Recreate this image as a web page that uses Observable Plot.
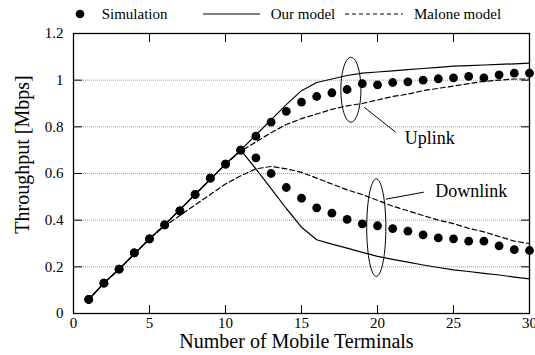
<!DOCTYPE html>
<html><head><meta charset="utf-8">
<script src="https://cdn.jsdelivr.net/npm/d3@7"></script>
<script src="https://cdn.jsdelivr.net/npm/@observablehq/plot@0.6"></script>
<style>
body{margin:0;background:#fff;font-family:"Liberation Serif","Times New Roman",Times,"Nimbus Roman","DejaVu Serif",serif;}
#legend{position:relative;width:535px;height:24px;font-size:15px;color:#000}
#legend .lbl{position:absolute;top:4px;line-height:20px;white-space:nowrap}
#legend svg{position:absolute;top:4px}
</style></head><body>
<div id="legend"></div>
<div id="chart"></div>
<script>
// ---- data ----
const terminals = [1,2,3,4,5,6,7,8,9,10,11,12,13,14,15,16,17,18,19,20,21,22,23,24,25,26,27,28,29,30];
const simUplink = [0.06,0.13,0.19,0.26,0.32,0.38,0.44,0.51,0.58,0.64,0.70,0.76,0.82,0.866,0.906,0.93,0.946,0.96,0.985,0.98,0.99,0.993,1.0,1.006,1.01,1.016,1.01,1.023,1.03,1.03];
const simDownlink = [0.06,0.13,0.19,0.26,0.32,0.38,0.44,0.51,0.58,0.64,0.70,0.667,0.60,0.54,0.494,0.453,0.43,0.403,0.384,0.376,0.364,0.353,0.337,0.324,0.32,0.31,0.31,0.29,0.274,0.27];
const ourUplink = [0.06,0.13,0.19,0.255,0.32,0.38,0.445,0.51,0.575,0.64,0.70,0.765,0.83,0.895,0.955,0.99,1.005,1.02,1.03,1.035,1.04,1.045,1.05,1.055,1.06,1.062,1.065,1.068,1.07,1.073];
const ourDownlink = [0.06,0.13,0.19,0.255,0.32,0.38,0.445,0.51,0.575,0.64,0.70,0.62,0.535,0.45,0.37,0.316,0.297,0.28,0.262,0.245,0.232,0.22,0.208,0.197,0.187,0.18,0.172,0.165,0.156,0.148];
const maloneUplink = [0.06,0.13,0.19,0.255,0.32,0.38,0.445,0.51,0.575,0.64,0.695,0.735,0.775,0.81,0.835,0.855,0.875,0.89,0.90,0.915,0.93,0.94,0.955,0.965,0.975,0.985,0.995,1.0,1.005,1.005];
const maloneDownlink = [0.06,0.13,0.19,0.255,0.32,0.375,0.42,0.465,0.51,0.555,0.59,0.62,0.63,0.62,0.605,0.58,0.555,0.53,0.51,0.485,0.46,0.44,0.42,0.40,0.385,0.365,0.35,0.33,0.31,0.30];

const xTicks = [0,5,10,15,20,25,30];
const yTicks = [0,0.2,0.4,0.6,0.8,1,1.2];
const gridValues = [0.2,0.4,0.6,0.8,1];

const xLabel = "Number of Mobile Terminals";
const yLabel = "Throughput [Mbps]";
const legendLabels = ["Simulation","Our model","Malone model"];

// annotations (data units)
const annotationLabels = ["Uplink","Downlink"];
const annotationX = [21.8, 23.8];
const annotationY = [0.753, 0.526];
const ellipseCenterX = [18.25, 19.92];
const ellipseCenterY = [0.959, 0.368];
const ellipseRadiusX = [0.66, 0.63];
const ellipseRadiusY = [0.139, 0.209];
const leaderX1 = [19.12, 20.55];
const leaderY1 = [0.884, 0.49];
const leaderX2 = [21.2, 23.05];
const leaderY2 = [0.777, 0.52];

// ---- tables ----
const toRows = (ys) => ys.map((v, i) => ({t: terminals[i], v}));
const ellipsePts = [];
ellipseCenterX.forEach((cx, k) => {
  for (let i = 0; i < 72; i++) {
    const a = (i / 72) * 2 * Math.PI;
    ellipsePts.push({k, x: cx + ellipseRadiusX[k] * Math.cos(a), y: ellipseCenterY[k] + ellipseRadiusY[k] * Math.sin(a)});
  }
});
const leaders = leaderX1.map((x1, i) => ({x1, y1: leaderY1[i], x2: leaderX2[i], y2: leaderY2[i]}));
const annotations = annotationLabels.map((label, i) => ({label, x: annotationX[i], y: annotationY[i]}));

const lineOpts = {x: "t", y: "v", stroke: "black", strokeWidth: 1.2};
const dashOpts = {...lineOpts, strokeDasharray: "5,3"};
const dotOpts = {x: "t", y: "v", r: 4.4, fill: "black"};

const FONT = "'Liberation Serif','Times New Roman',Times,'Nimbus Roman','DejaVu Serif',serif";

const chart = Plot.plot({
  width: 535,
  height: 331,
  marginTop: 9,
  marginBottom: 42,
  marginLeft: 73,
  marginRight: 6,
  style: {fontFamily: FONT, fontSize: "15px", color: "black", background: "white", overflow: "visible"},
  x: {domain: [0, 30]},
  y: {domain: [0, 1.2]},
  marks: [
    Plot.ruleY(gridValues, {stroke: "#a0a0a0", strokeDasharray: "1,1", strokeWidth: 1}),
    Plot.line(toRows(ourUplink), lineOpts),
    Plot.line(toRows(ourDownlink), lineOpts),
    Plot.line(toRows(maloneUplink), dashOpts),
    Plot.line(toRows(maloneDownlink), dashOpts),
    Plot.dot(toRows(simUplink), dotOpts),
    Plot.dot(toRows(simDownlink), dotOpts),
    Plot.line(ellipsePts, {x: "x", y: "y", z: "k", curve: "linear-closed", stroke: "black", strokeWidth: 1}),
    Plot.link(leaders, {x1: "x1", y1: "y1", x2: "x2", y2: "y2", stroke: "black", strokeWidth: 1}),
    Plot.text(annotations, {x: "x", y: "y", text: "label", textAnchor: "start", lineAnchor: "middle", fontSize: 18, fontFamily: FONT}),
    Plot.axisX({ticks: xTicks, tickSize: 0, tickPadding: 4, tickFormat: d => String(d), label: null, fontFamily: FONT}),
    Plot.axisY({ticks: yTicks, tickSize: 0, tickPadding: 10, tickFormat: d => String(d), label: null, fontFamily: FONT}),
    Plot.axisX({ticks: xTicks, anchor: "bottom", tickSize: -8, fill: "none", label: null}),
    Plot.axisX({ticks: xTicks, anchor: "top", tickSize: -8, fill: "none", label: null}),
    Plot.axisY({ticks: yTicks, anchor: "left", tickSize: -9, fill: "none", label: null}),
    Plot.axisY({ticks: yTicks, anchor: "right", tickSize: -9, fill: "none", label: null}),
    Plot.frame({stroke: "black", strokeWidth: 1.3}),
    Plot.text([xLabel], {text: d => d, frameAnchor: "bottom", textAnchor: "middle", dy: 28, dx: -5, lineAnchor: "middle", fontSize: 20, fontFamily: FONT}),
    Plot.text([yLabel], {text: d => d, frameAnchor: "left", textAnchor: "middle", rotate: -90, dx: -51, dy: -19, lineAnchor: "middle", fontSize: 20, fontFamily: FONT})
  ]
});
document.getElementById("chart").appendChild(chart);

// ---- legend ----
const legend = document.getElementById("legend");
const ns = "http://www.w3.org/2000/svg";
const swatchLeft = [74, 203, 345];
const swatchWidth = [12, 57, 58];
const textLeft = [101.7, 270.7, 414];
legendLabels.forEach((label, i) => {
  const s = document.createElementNS(ns, "svg");
  s.setAttribute("width", swatchWidth[i]);
  s.setAttribute("height", 20);
  s.style.left = swatchLeft[i] + "px";
  if (i === 0) {
    const c = document.createElementNS(ns, "circle");
    c.setAttribute("cx", 6); c.setAttribute("cy", 10); c.setAttribute("r", 4.3);
    c.setAttribute("fill", "black");
    s.appendChild(c);
  } else {
    const l = document.createElementNS(ns, "line");
    l.setAttribute("x1", 0); l.setAttribute("x2", swatchWidth[i]);
    l.setAttribute("y1", 10); l.setAttribute("y2", 10);
    l.setAttribute("stroke", "black"); l.setAttribute("stroke-width", 1.2);
    if (i === 2) l.setAttribute("stroke-dasharray", "4,3");
    s.appendChild(l);
  }
  legend.appendChild(s);
  const t = document.createElement("span");
  t.className = "lbl";
  t.style.left = textLeft[i] + "px";
  t.textContent = label;
  legend.appendChild(t);
});
</script>
</body></html>
